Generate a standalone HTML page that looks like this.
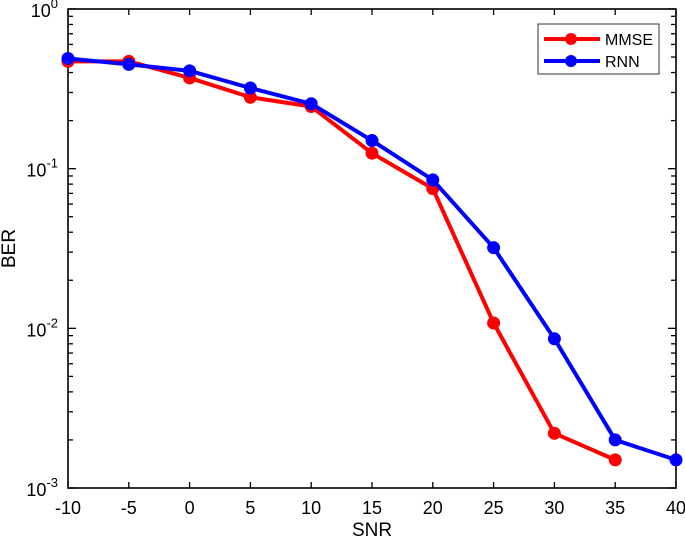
<!DOCTYPE html>
<html><head><meta charset="utf-8"><style>body{margin:0;background:#fff}svg{display:block;font-family:"Liberation Sans",sans-serif}</style></head>
<body>
<svg id="chart" width="685" height="542"></svg>
<script>
const snr=[-10,-5,0,5,10,15,20,25,30,35,40];
const mmse=[0.47,0.47,0.37,0.28,0.245,0.125,0.075,0.0108,0.0022,0.0015];
const rnn=[0.49,0.45,0.41,0.32,0.255,0.15,0.085,0.032,0.0086,0.002,0.0015];
const xTicks=[-10,-5,0,5,10,15,20,25,30,35,40];
const yDecades=[0,-1,-2,-3];
const L=68,R=676,T=9,B=488;
const NS='http://www.w3.org/2000/svg';
const svg=document.getElementById('chart');
const xs=v=>L+(v+10)/50*(R-L);
const ys=v=>T+(0-Math.log10(v))/3*(B-T);
function el(t,a,p){const e=document.createElementNS(NS,t);for(const k in a)e.setAttribute(k,a[k]);(p||svg).appendChild(e);return e;}
const frame=el('rect',{x:L,y:T,width:R-L,height:B-T,fill:'none',stroke:'#000','stroke-width':1.6});


xTicks.forEach(v=>{
  const x=xs(v);
  el('line',{x1:x,x2:x,y1:B,y2:B-6,stroke:'#000','stroke-width':1.3});
  el('line',{x1:x,x2:x,y1:T,y2:T+6,stroke:'#000','stroke-width':1.3});
  const t=el('text',{x:x,y:B+26,'text-anchor':'middle','font-size':18});
  t.textContent=v;
  
  
});
yDecades.forEach(d=>{
  const y=ys(Math.pow(10,d));
  el('line',{x1:L,x2:L+8,y1:y,y2:y,stroke:'#000','stroke-width':1.3});
  el('line',{x1:R,x2:R-8,y1:y,y2:y,stroke:'#000','stroke-width':1.3});
  const t=el('text',{x:L-10,y:y+8,'text-anchor':'end','font-size':18});
  t.innerHTML='10<tspan dy="-9" font-size="13">'+d+'</tspan>';
  
  
  if(d>-3){for(let m=2;m<=9;m++){const yy=ys(m*Math.pow(10,d-1));
    el('line',{x1:L,x2:L+5,y1:yy,y2:yy,stroke:'#000','stroke-width':1.3});
    el('line',{x1:R,x2:R-5,y1:yy,y2:yy,stroke:'#000','stroke-width':1.3});}}
});
function series(data,color,name){
  const g=el('g',{});
  
  
  el('polyline',{points:data.map((v,i)=>xs(snr[i])+','+ys(v)).join(' '),fill:'none',stroke:color,'stroke-width':4,'stroke-linejoin':'round'},g);
  data.forEach((v,i)=>{const c=el('circle',{cx:xs(snr[i]),cy:ys(v),r:6.5,fill:color},g);
    
    });
}
series(mmse,'#ff0000','mmse');
series(rnn,'#0000ff','rnn');
const xl=el('text',{x:(L+R)/2,y:536,'text-anchor':'middle','font-size':19});xl.textContent='SNR';


const yl=el('text',{x:0,y:0,'text-anchor':'middle','font-size':19,transform:'translate(15,'+(T+B)/2+') rotate(-90)'});yl.textContent='BER';


const lg=el('g',{});


el('rect',{x:538,y:24,width:121,height:50,fill:'#fff',stroke:'#333'},lg);
[['MMSE','#ff0000',39],['RNN','#0000ff',61]].forEach(([n,c,y])=>{
  el('line',{x1:544,x2:600,y1:y,y2:y,stroke:c,'stroke-width':4},lg);
  el('circle',{cx:571,cy:y,r:6,fill:c},lg);
  const t=el('text',{x:605,y:y+6,'font-size':16},lg);t.textContent=n;
  
  
});
</script>
</body></html>
